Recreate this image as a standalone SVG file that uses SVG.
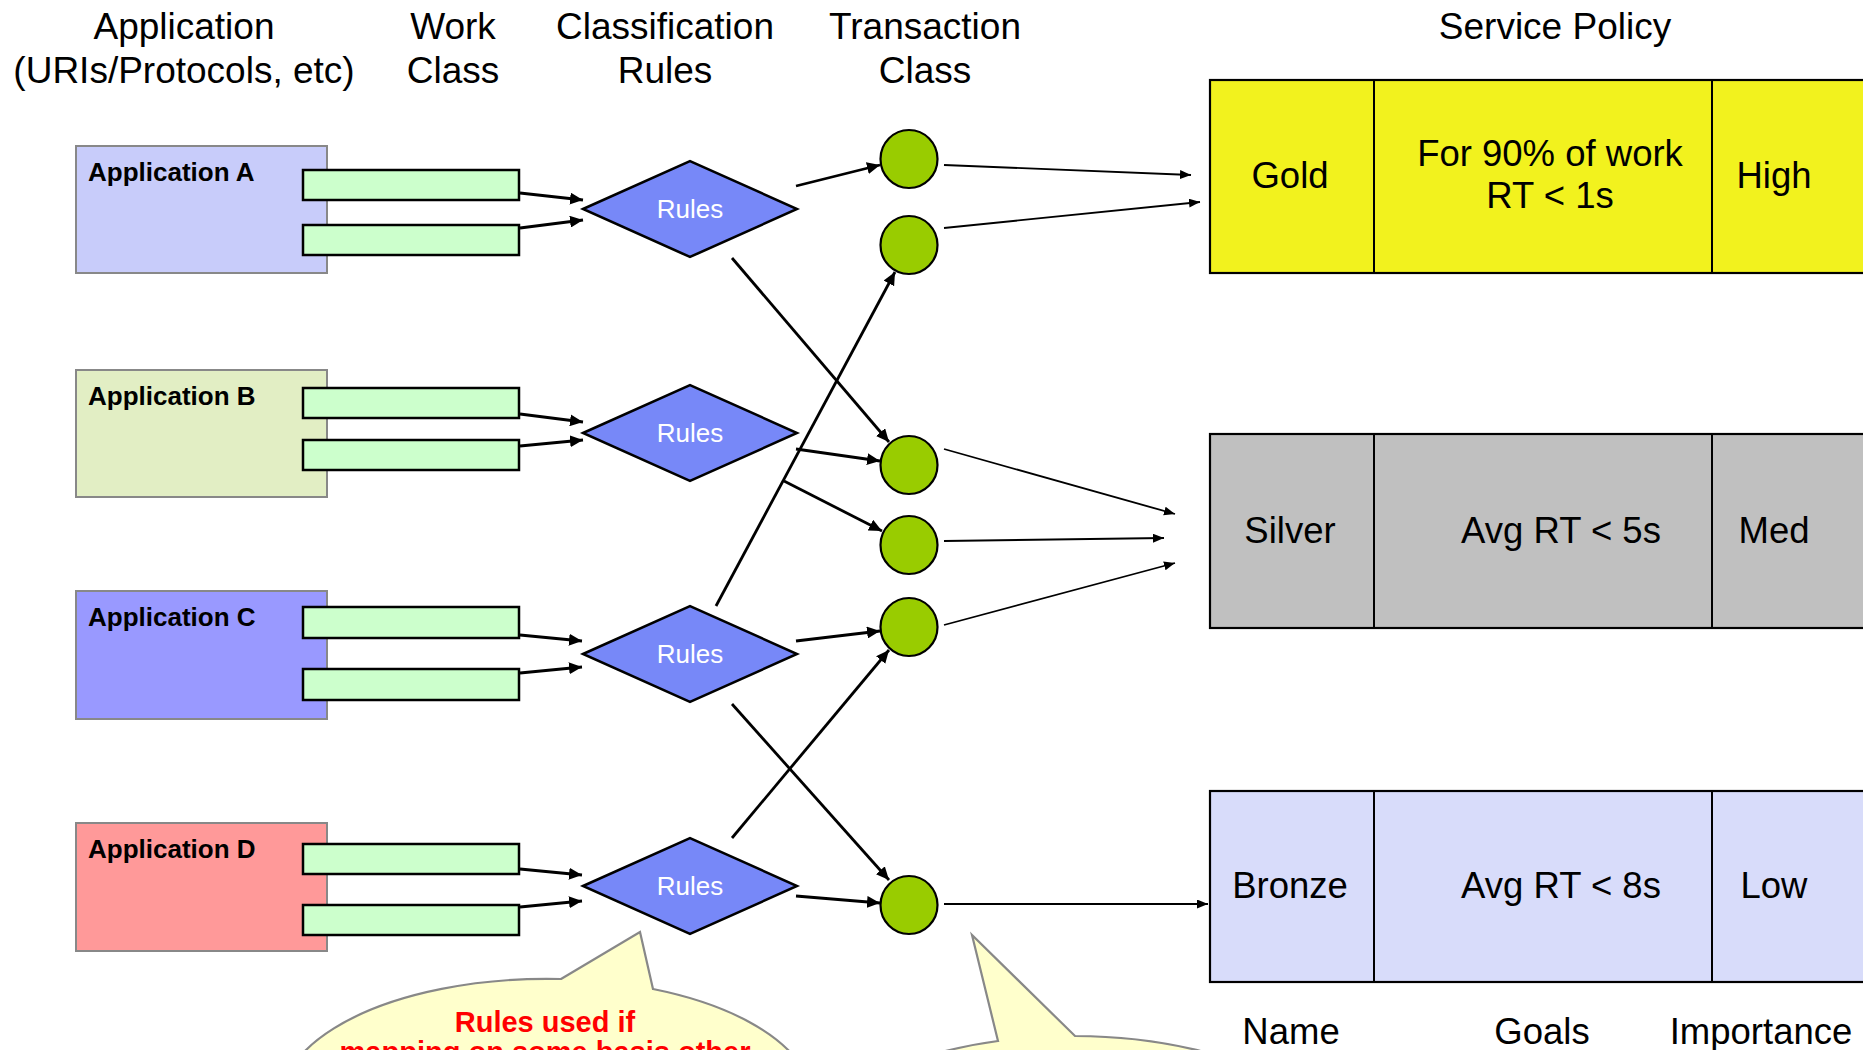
<svg xmlns="http://www.w3.org/2000/svg" width="1863" height="1050" viewBox="0 0 1863 1050">
  <style>
    text { font-family: "Liberation Sans", Arial, sans-serif; }
    .hdr { font-size: 37px; fill: #000; text-anchor: middle; }
    .app { stroke: #888; stroke-width: 2; }
    .applbl { font-size: 26px; font-weight: bold; fill: #000; }
    .bar { fill: #CCFFCC; stroke: #000; stroke-width: 2.5; }
    .rule { fill: #7788F8; stroke: #000; stroke-width: 2.5; }
    .rulelbl { font-size: 26px; fill: #fff; text-anchor: middle; }
    .tc { fill: #99CC00; stroke: #000; stroke-width: 2.2; }
    .pol { stroke: #000; stroke-width: 2.2; }
    .div { stroke: #000; stroke-width: 2; }
    .pt { font-size: 36.5px; fill: #000; text-anchor: middle; }
    .heavy { stroke: #000; stroke-width: 2.8; fill: none; marker-end: url(#ah); }
    .thin { stroke: #000; stroke-width: 1.8; fill: none; marker-end: url(#as); }
    .bubble { fill: #FFFFCC; stroke: #888; stroke-width: 2.2; }
    .note { font-size: 29px; font-weight: bold; fill: #FF0000; text-anchor: middle; }
  </style>
  <defs>
    <marker id="ah" markerUnits="userSpaceOnUse" markerWidth="14" markerHeight="12" refX="13" refY="6" orient="auto">
      <path d="M0,0 L13,6 L0,12 Z" fill="#000"/>
    </marker>
    <marker id="as" markerUnits="userSpaceOnUse" markerWidth="12" markerHeight="10" refX="11" refY="4.5" orient="auto">
      <path d="M0,0 L11,4.5 L0,9 Z" fill="#000"/>
    </marker>
  </defs>

  <rect width="1863" height="1050" fill="#fff"/>

  <!-- column headings -->
  <g id="headings">
    <text class="hdr" x="184" y="39">Application</text>
    <text class="hdr" x="184" y="83">(URIs/Protocols, etc)</text>
    <text class="hdr" x="453" y="39">Work</text>
    <text class="hdr" x="453" y="83">Class</text>
    <text class="hdr" x="665" y="39">Classification</text>
    <text class="hdr" x="665" y="83">Rules</text>
    <text class="hdr" x="925" y="39">Transaction</text>
    <text class="hdr" x="925" y="83">Class</text>
    <text class="hdr" x="1555" y="39">Service Policy</text>
  </g>

  <!-- applications with their work classes -->
  <g id="app-a">
    <rect class="app" x="76" y="146" width="251" height="127" fill="#C8CCFA"/>
    <text class="applbl" x="88" y="181">Application A</text>
    <rect class="bar" x="303" y="170" width="216" height="30"/>
    <rect class="bar" x="303" y="225" width="216" height="30"/>
  </g>
  <g id="app-b">
    <rect class="app" x="76" y="370" width="251" height="127" fill="#E2EEC4"/>
    <text class="applbl" x="88" y="405">Application B</text>
    <rect class="bar" x="303" y="388" width="216" height="30"/>
    <rect class="bar" x="303" y="440" width="216" height="30"/>
  </g>
  <g id="app-c">
    <rect class="app" x="76" y="591" width="251" height="128" fill="#9999FF"/>
    <text class="applbl" x="88" y="626">Application C</text>
    <rect class="bar" x="303" y="607" width="216" height="31"/>
    <rect class="bar" x="303" y="669" width="216" height="31"/>
  </g>
  <g id="app-d">
    <rect class="app" x="76" y="823" width="251" height="128" fill="#FF9999"/>
    <text class="applbl" x="88" y="858">Application D</text>
    <rect class="bar" x="303" y="844" width="216" height="30"/>
    <rect class="bar" x="303" y="905" width="216" height="30"/>
  </g>

  <!-- classification rules -->
  <g id="rules-1">
    <polygon class="rule" points="583,209 690,161 797,209 690,257"/>
    <text class="rulelbl" x="690" y="218">Rules</text>
  </g>
  <g id="rules-2">
    <polygon class="rule" points="583,433 690,385 797,433 690,481"/>
    <text class="rulelbl" x="690" y="442">Rules</text>
  </g>
  <g id="rules-3">
    <polygon class="rule" points="583,654 690,606 797,654 690,702"/>
    <text class="rulelbl" x="690" y="663">Rules</text>
  </g>
  <g id="rules-4">
    <polygon class="rule" points="583,886 690,838 797,886 690,934"/>
    <text class="rulelbl" x="690" y="895">Rules</text>
  </g>

  <!-- transaction classes -->
  <g id="tc-1"><ellipse class="tc" cx="909" cy="159" rx="28.5" ry="29"/></g>
  <g id="tc-2"><ellipse class="tc" cx="909" cy="245" rx="28.5" ry="29"/></g>
  <g id="tc-3"><ellipse class="tc" cx="909" cy="465" rx="28.5" ry="29"/></g>
  <g id="tc-4"><ellipse class="tc" cx="909" cy="545" rx="28.5" ry="29"/></g>
  <g id="tc-5"><ellipse class="tc" cx="909" cy="627" rx="28.5" ry="29"/></g>
  <g id="tc-6"><ellipse class="tc" cx="909" cy="905" rx="28.5" ry="29"/></g>

  <!-- service policies -->
  <g id="policy-gold">
    <rect class="pol" x="1210" y="80" width="660" height="193" fill="#F2F21E"/>
    <line class="div" x1="1374" y1="80" x2="1374" y2="273"/>
    <line class="div" x1="1712" y1="80" x2="1712" y2="273"/>
    <text class="pt" x="1290" y="188">Gold</text>
    <text class="pt" x="1550" y="166">For 90% of work</text>
    <text class="pt" x="1550" y="208">RT &lt; 1s</text>
    <text class="pt" x="1774" y="188">High</text>
  </g>
  <g id="policy-silver">
    <rect class="pol" x="1210" y="434" width="660" height="194" fill="#C0C0C0"/>
    <line class="div" x1="1374" y1="434" x2="1374" y2="628"/>
    <line class="div" x1="1712" y1="434" x2="1712" y2="628"/>
    <text class="pt" x="1290" y="543">Silver</text>
    <text class="pt" x="1561" y="543">Avg RT &lt; 5s</text>
    <text class="pt" x="1774" y="543">Med</text>
  </g>
  <g id="policy-bronze">
    <rect class="pol" x="1210" y="791" width="660" height="191" fill="#D8DCFA"/>
    <line class="div" x1="1374" y1="791" x2="1374" y2="982"/>
    <line class="div" x1="1712" y1="791" x2="1712" y2="982"/>
    <text class="pt" x="1290" y="898">Bronze</text>
    <text class="pt" x="1561" y="898">Avg RT &lt; 8s</text>
    <text class="pt" x="1774" y="898">Low</text>
  </g>
  <g id="policy-columns">
    <text class="pt" x="1291" y="1044">Name</text>
    <text class="pt" x="1542" y="1044">Goals</text>
    <text class="pt" x="1761" y="1044">Importance</text>
  </g>

  <!-- connectors -->
  <g id="connectors">
    <line class="heavy" x1="520" y1="193" x2="583" y2="200"/>
    <line class="heavy" x1="520" y1="228" x2="583" y2="220"/>
    <line class="heavy" x1="520" y1="414" x2="583" y2="422"/>
    <line class="heavy" x1="520" y1="446" x2="583" y2="440"/>
    <line class="heavy" x1="520" y1="635" x2="582" y2="641"/>
    <line class="heavy" x1="520" y1="673" x2="582" y2="667"/>
    <line class="heavy" x1="520" y1="869" x2="582" y2="875"/>
    <line class="heavy" x1="520" y1="907" x2="582" y2="901"/>

    <line class="heavy" x1="796" y1="186" x2="880" y2="165"/>
    <line class="heavy" x1="732" y1="258" x2="889" y2="442"/>
    <line class="heavy" x1="796" y1="449" x2="880" y2="461"/>
    <line class="heavy" x1="784" y1="481" x2="882" y2="531"/>
    <line class="heavy" x1="716" y1="606" x2="895" y2="272"/>
    <line class="heavy" x1="796" y1="641" x2="880" y2="631"/>
    <line class="heavy" x1="732" y1="704" x2="889" y2="880"/>
    <line class="heavy" x1="732" y1="838" x2="889" y2="650"/>
    <line class="heavy" x1="796" y1="896" x2="880" y2="903"/>

    <line class="thin" x1="944" y1="165" x2="1191" y2="175"/>
    <line class="thin" x1="944" y1="228" x2="1200" y2="202"/>
    <line class="thin" x1="944" y1="449" x2="1175" y2="514"/>
    <line class="thin" x1="944" y1="541" x2="1164" y2="538"/>
    <line class="thin" x1="944" y1="625" x2="1175" y2="563"/>
    <line class="thin" x1="944" y1="904" x2="1208" y2="904"/>
  </g>

  <!-- call-out balloons -->
  <g id="note-rules">
    <path class="bubble" d="M561,979 L640,932 L653,989 A265,122 0 1 1 561,979 Z"/>
    <text class="note" x="545" y="1032">Rules used if</text>
    <text class="note" x="545" y="1062">mapping on some basis other</text>
  </g>
  <g id="note-class">
    <path class="bubble" d="M998,1041 L972,935 L1075,1036 A265,122 0 1 1 998,1041 Z"/>
  </g>
</svg>
